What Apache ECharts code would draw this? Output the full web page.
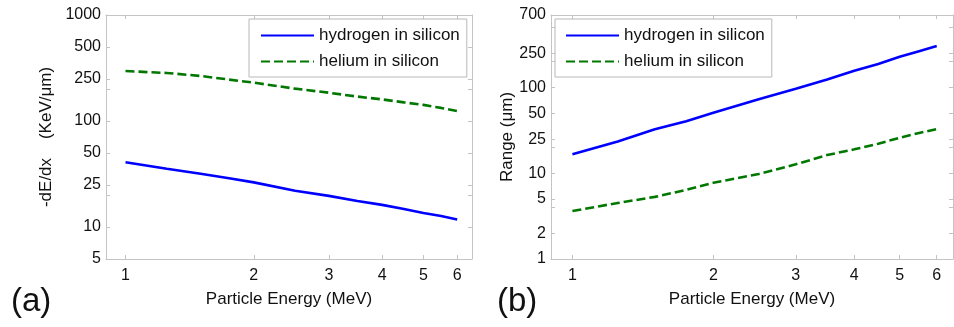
<!DOCTYPE html>
<html>
<head>
<meta charset="utf-8">
<script src="https://cdn.jsdelivr.net/npm/echarts@6/dist/echarts.min.js"></script>
<style>
  html, body { margin: 0; padding: 0; background: #fff; }
  #chart { width: 954px; height: 327px; }
</style>
</head>
<body>
<div id="chart"></div>
<script>
// Particle energy grid (MeV)
const energy = [1, 1.25, 1.5, 1.75, 2, 2.5, 3, 3.5, 4, 4.5, 5, 5.5, 6];

// (a) stopping power -dE/dx (KeV/um)
const stopHydrogen = [40.8, 35.5, 31.8, 28.9, 26.4, 22.0, 19.7, 17.6, 16.2, 14.8, 13.6, 12.7, 11.8];
const stopHelium   = [296, 284, 266, 246, 230, 202, 185, 170, 160, 150, 142, 133, 124];

// (b) range (um)
const rangeHydrogen = [16.6, 23.5, 32.5, 40.5, 50.7, 73, 96.6, 124, 157, 188, 228, 265, 304];
const rangeHelium   = [3.63, 4.5, 5.3, 6.4, 7.75, 9.8, 12.7, 16.3, 19.0, 22.1, 25.9, 29.5, 32.7];

// Tick labels
const energyTicks = [1, 2, 3, 4, 5, 6];
const stopTicks = [5, 10, 25, 50, 100, 250, 500, 1000];
const stopMinorTicks = [20, 200];
const rangeTicks = [1, 2, 5, 10, 25, 50, 100, 250, 700];
const rangeMinorTicks = [4, 20, 200, 500];

const seriesNames = ['hydrogen in silicon', 'helium in silicon'];

const FONT = 'Liberation Sans, Arial, sans-serif';
const FRAME = '#c4c4c4';
const TEXT = '#111';
const BLUE = '#0000ff';
const GREEN = '#007800';

const pairs = (xs, ys) => xs.map((x, i) => [x, ys[i]]);
const plain = v => String(v);

function xAxes(gridIndex) {
  return [
    {
      type: 'log', gridIndex, min: 0.9, max: 6.5, position: 'bottom',
      name: 'Particle Energy (MeV)', nameLocation: 'middle', nameGap: 32,
      nameTextStyle: { fontFamily: FONT, fontSize: 17, color: TEXT },
      axisLine: { show: true, lineStyle: { color: FRAME, width: 1 } },
      axisTick: { show: true, inside: true, length: 4, customValues: energyTicks, lineStyle: { color: FRAME } },
      axisLabel: { customValues: energyTicks, formatter: plain, fontFamily: FONT, fontSize: 16, color: TEXT, margin: 9 },
      minorTick: { show: false }, splitLine: { show: false }
    },
    {
      type: 'log', gridIndex, min: 0.9, max: 6.5, position: 'top',
      axisLine: { show: true, lineStyle: { color: FRAME, width: 1 } },
      axisTick: { show: true, inside: true, length: 4, customValues: energyTicks, lineStyle: { color: FRAME } },
      axisLabel: { show: false }, splitLine: { show: false }
    }
  ];
}

function yAxes(gridIndex, min, max, ticks, extraTicks, name, nameGap) {
  const allTicks = ticks.concat(extraTicks).sort((a, b) => a - b);
  return [
    {
      type: 'log', gridIndex, min, max, position: 'left',
      name, nameLocation: 'middle', nameGap,
      nameTextStyle: { fontFamily: FONT, fontSize: 17, color: TEXT },
      axisLine: { show: true, lineStyle: { color: FRAME, width: 1 } },
      axisTick: { show: true, inside: true, length: 4, customValues: allTicks, lineStyle: { color: FRAME } },
      axisLabel: { customValues: ticks, formatter: plain, fontFamily: FONT, fontSize: 16, color: TEXT, margin: 5 },
      splitLine: { show: false }
    },
    {
      type: 'log', gridIndex, min, max, position: 'right',
      axisLine: { show: true, lineStyle: { color: FRAME, width: 1 } },
      axisTick: { show: true, inside: true, length: 4, customValues: allTicks, lineStyle: { color: FRAME } },
      axisLabel: { show: false }, splitLine: { show: false }
    }
  ];
}

function lineSeries(name, data, axisIndex, color, dashed) {
  return {
    type: 'line', name, data,
    xAxisIndex: axisIndex, yAxisIndex: axisIndex,
    showSymbol: false, symbol: 'none', smooth: false,
    lineStyle: { color, width: 2.6, type: dashed ? [9, 4] : 'solid' },
    itemStyle: { color },
    animation: false
  };
}

function legendBox(left, padLeft) {
  return {
    data: seriesNames.map(n => ({ name: n })),
    orient: 'vertical', left, top: 19,
    itemWidth: 53, itemHeight: 14, itemGap: 9,
    padding: [8, 7, 7, padLeft],
    borderColor: '#b8b8b8', borderWidth: 1, backgroundColor: '#fff',
    itemStyle: { color: 'rgba(0,0,0,0)', borderWidth: 0, opacity: 0 },
    textStyle: { fontFamily: FONT, fontSize: 17, color: TEXT },
    selectedMode: false
  };
}

const chart = echarts.init(document.getElementById('chart'), null, { renderer: 'canvas' });

chart.setOption({
  animation: false,
  backgroundColor: '#fff',
  grid: [
    { left: 106, top: 15, width: 366, height: 244, show: false },
    { left: 551, top: 15, width: 402, height: 244, show: false }
  ],
  xAxis: [...xAxes(0), ...xAxes(1)],
  yAxis: [
    ...yAxes(0, 5, 1000, stopTicks, stopMinorTicks, '-dE/dx    (KeV/\u03BCm)', 51),
    ...yAxes(1, 1, 700, rangeTicks, rangeMinorTicks, 'Range (\u03BCm)', 34)
  ],
  legend: [legendBox(249, 11), legendBox(555, 10)],
  graphic: [
    { type: 'text', left: 11, top: 285, style: { text: '(a)', font: '33px ' + FONT, fill: TEXT } },
    { type: 'text', left: 497, top: 285, style: { text: '(b)', font: '33px ' + FONT, fill: TEXT } }
  ],
  series: [
    lineSeries(seriesNames[0], pairs(energy, stopHydrogen), 0, BLUE, false),
    lineSeries(seriesNames[1], pairs(energy, stopHelium), 0, GREEN, true),
    lineSeries(seriesNames[0], pairs(energy, rangeHydrogen), 2, BLUE, false),
    lineSeries(seriesNames[1], pairs(energy, rangeHelium), 2, GREEN, true)
  ]
});
</script>
</body>
</html>
